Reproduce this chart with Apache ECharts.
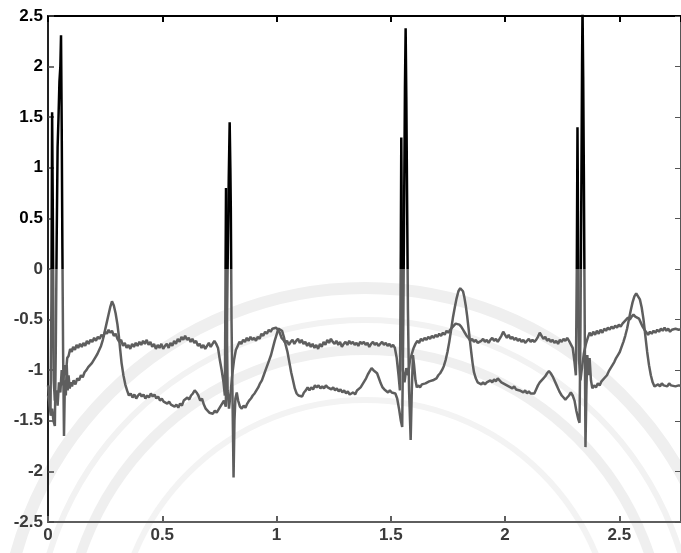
<!DOCTYPE html>
<html lang="en">
<head>
    <meta charset="UTF-8" />
    <title>ECG</title>
    <script src="https://cdn.jsdelivr.net/npm/echarts@6/dist/echarts.min.js"></script>
    <style>
        html, body { margin: 0; padding: 0; background: #fff; }
    </style>
</head>
<body>
    <div id="main" style="width: 681px; height: 553px"></div>
    <script>
        // lead with the tall R waves and T waves, [time s, mV]
        var traceA = [
            [0,-1.25],[0.006,-1.32],[0.012,-1.45],[0.018,-1.38],[0.024,-1.5],[0.03,-1.55],[0.034,-0.8],[0.038,0.3],[0.042,1.2],
            [0.046,1.5],[0.05,1.85],[0.054,2.0],[0.057,2.31],[0.06,1.4],[0.063,0.2],[0.066,-0.8],[0.07,-1.65],[0.074,-1.1],
            [0.078,-1.25],[0.082,-0.95],[0.086,-1.2],[0.09,-1.05],[0.095,-1.18],[0.1,-1.12],
            [0.105,-1.16],[0.112,-1.1],[0.12,-1.14],[0.128,-1.08],[0.136,-1.1],[0.144,-1.05],[0.152,-1.07],[0.16,-1.02],
            [0.168,-1.0],[0.176,-0.97],[0.184,-0.95],[0.192,-0.93],[0.2,-0.9],[0.208,-0.87],[0.216,-0.84],[0.224,-0.8],
            [0.232,-0.76],[0.24,-0.7],[0.248,-0.62],[0.256,-0.54],[0.264,-0.46],[0.272,-0.38],[0.28,-0.32],[0.288,-0.36],
            [0.296,-0.44],[0.304,-0.55],[0.31,-0.66],[0.316,-0.8],[0.322,-0.93],[0.33,-1.05],[0.338,-1.14],[0.346,-1.2],
            [0.354,-1.25],[0.362,-1.23],[0.37,-1.27],[0.378,-1.24],[0.386,-1.28],[0.394,-1.25],[0.402,-1.23],[0.41,-1.26],
            [0.418,-1.24],[0.426,-1.28],[0.434,-1.25],[0.442,-1.27],
            [0.45,-1.23],[0.458,-1.26],[0.466,-1.24],[0.474,-1.28],[0.482,-1.26],[0.49,-1.3],[0.498,-1.28],[0.506,-1.31],
            [0.514,-1.3],[0.522,-1.33],[0.53,-1.31],[0.538,-1.34],[0.546,-1.33],[0.554,-1.36],[0.562,-1.34],[0.57,-1.37],
            [0.578,-1.33],[0.586,-1.35],[0.594,-1.3],[0.602,-1.31],[0.61,-1.27],[0.618,-1.29],[0.626,-1.25],[0.634,-1.23],
            [0.642,-1.2],[0.65,-1.22],[0.658,-1.25],[0.666,-1.3],[0.674,-1.28],[0.682,-1.34],[0.69,-1.38],[0.698,-1.4],
            [0.706,-1.42],[0.714,-1.41],[0.722,-1.43],[0.73,-1.4],[0.738,-1.42],[0.746,-1.39],[0.754,-1.4],[0.762,-1.33],
            [0.77,-1.3],[0.778,-1.36],[0.783,-0.6],[0.787,0.2],[0.791,0.9],[0.795,1.45],[0.798,1.0],[0.8,0.6],[0.803,-0.5],
            [0.807,-1.2],[0.812,-2.06],[0.816,-1.5],
            [0.82,-1.28],[0.826,-1.22],[0.832,-1.3],[0.84,-1.36],[0.848,-1.38],[0.856,-1.35],[0.864,-1.37],[0.872,-1.33],
            [0.88,-1.3],[0.888,-1.28],[0.896,-1.25],[0.904,-1.23],[0.912,-1.2],[0.92,-1.17],[0.928,-1.13],[0.936,-1.1],
            [0.944,-1.05],[0.952,-1.0],[0.96,-0.95],[0.968,-0.9],[0.976,-0.85],[0.984,-0.78],[0.992,-0.71],[1.0,-0.65],
            [1.008,-0.59],[1.016,-0.58],[1.024,-0.61],[1.032,-0.67],[1.04,-0.75],[1.048,-0.82],[1.056,-0.92],[1.064,-1.02],
            [1.072,-1.1],[1.08,-1.18],[1.088,-1.23],[1.096,-1.25],[1.104,-1.24],[1.112,-1.26],[1.12,-1.22],[1.128,-1.2],
            [1.136,-1.17],
            [1.144,-1.2],[1.152,-1.17],[1.16,-1.19],[1.168,-1.15],[1.176,-1.17],[1.184,-1.15],[1.192,-1.18],[1.2,-1.16],
            [1.208,-1.18],[1.216,-1.15],[1.224,-1.17],[1.232,-1.16],[1.24,-1.19],[1.248,-1.17],[1.256,-1.2],[1.264,-1.18],
            [1.272,-1.21],[1.28,-1.19],[1.288,-1.22],[1.296,-1.2],[1.304,-1.23],[1.312,-1.21],[1.32,-1.24],[1.328,-1.25],
            [1.336,-1.22],[1.344,-1.24],[1.352,-1.2],[1.36,-1.21],[1.368,-1.17],[1.376,-1.14],[1.384,-1.11],[1.392,-1.08],
            [1.4,-1.04],[1.408,-1.01],[1.416,-0.98],[1.424,-1.0],[1.432,-0.99],[1.44,-1.03],[1.448,-1.08],[1.456,-1.13],
            [1.464,-1.17],[1.472,-1.19],[1.48,-1.2],[1.488,-1.22],[1.496,-1.2],[1.504,-1.22],[1.512,-1.21],[1.52,-1.23],
            [1.528,-1.28],[1.536,-1.38],[1.544,-1.5],[1.55,-1.56],[1.555,-0.5],[1.559,0.8],[1.562,1.8],[1.565,2.38],
            [1.568,1.7],[1.571,0.8],[1.575,-0.4],[1.58,-1.2],[1.587,-1.69],[1.592,-1.2],[1.597,-0.85],[1.602,-0.95],
            [1.608,-1.1],[1.614,-1.17],[1.62,-1.15],[1.628,-1.17],[1.636,-1.14],[1.644,-1.15],[1.652,-1.13],[1.66,-1.14],
            [1.668,-1.11],[1.676,-1.12],[1.684,-1.1],[1.692,-1.1],
            [1.7,-1.08],[1.708,-1.05],[1.716,-1.03],[1.724,-1.0],[1.732,-0.96],[1.74,-0.9],[1.748,-0.82],[1.756,-0.72],
            [1.764,-0.6],[1.772,-0.48],[1.78,-0.38],[1.788,-0.29],[1.796,-0.22],[1.804,-0.19],[1.81,-0.18],[1.816,-0.22],
            [1.822,-0.28],[1.828,-0.36],[1.834,-0.46],[1.84,-0.58],[1.846,-0.7],[1.852,-0.82],[1.858,-0.93],[1.864,-1.02],
            [1.872,-1.08],[1.88,-1.12],[1.888,-1.13],
            [1.896,-1.14],[1.904,-1.12],[1.912,-1.14],[1.92,-1.12],[1.928,-1.13],[1.936,-1.1],[1.944,-1.12],[1.952,-1.09],
            [1.96,-1.11],[1.968,-1.08],[1.976,-1.1],[1.984,-1.12],[1.992,-1.11],[2.0,-1.14],[2.008,-1.13],[2.016,-1.16],
            [2.024,-1.15],[2.032,-1.18],[2.04,-1.16],[2.048,-1.19],[2.056,-1.18],[2.064,-1.2],[2.072,-1.19],[2.08,-1.22],
            [2.088,-1.2],[2.096,-1.23],[2.104,-1.21],[2.112,-1.23],[2.12,-1.22],[2.128,-1.23],[2.136,-1.19],[2.144,-1.15],
            [2.152,-1.12],[2.16,-1.1],[2.168,-1.08],[2.176,-1.06],[2.184,-1.03],[2.192,-1.01],[2.2,-1.03],[2.208,-1.06],
            [2.216,-1.1],[2.224,-1.14],[2.232,-1.18],[2.24,-1.22],[2.248,-1.25],[2.256,-1.27],[2.264,-1.29],[2.272,-1.27],
            [2.28,-1.25],[2.288,-1.22],[2.296,-1.25],[2.304,-1.3],[2.312,-1.4],[2.32,-1.48],[2.326,-1.52],[2.33,-0.6],
            [2.334,0.8],[2.337,2.0],[2.339,2.6],[2.342,1.9],[2.345,0.9],[2.348,-0.3],[2.352,-1.76],[2.356,-1.2],
            [2.36,-0.85],[2.365,-1.05],[2.37,-0.88],[2.376,-1.1],[2.382,-1.18],[2.39,-1.15],[2.398,-1.17],[2.406,-1.13],
            [2.414,-1.15],[2.422,-1.11],
            [2.43,-1.1],[2.438,-1.07],[2.446,-1.05],[2.454,-1.01],[2.462,-0.98],[2.47,-0.95],[2.478,-0.92],[2.486,-0.88],
            [2.494,-0.85],[2.502,-0.82],[2.51,-0.77],[2.518,-0.72],[2.526,-0.66],[2.534,-0.59],[2.542,-0.5],[2.55,-0.41],
            [2.558,-0.33],[2.566,-0.27],[2.574,-0.24],[2.582,-0.25],[2.59,-0.3],[2.598,-0.38],[2.606,-0.5],[2.614,-0.66],
            [2.622,-0.82],[2.63,-0.95],[2.638,-1.05],[2.646,-1.12],[2.654,-1.16],[2.662,-1.17],[2.67,-1.14],[2.678,-1.16],
            [2.686,-1.13],[2.694,-1.15],[2.702,-1.14],[2.71,-1.16],[2.718,-1.13],[2.726,-1.15],[2.734,-1.14],[2.746,-1.16],
            [2.76,-1.15],[2.78,-1.16]
        ]

        // flatter lead around -0.7
        var traceB = [
            [0,-1.15],[0.006,-1.28],[0.011,-1.4],[0.015,-0.3],[0.018,1.55],[0.021,0.6],[0.025,-1.1],[0.03,-1.3],[0.036,-1.2],
            [0.042,-1.35],[0.048,-1.12],[0.054,-1.22],[0.06,-1.0],[0.066,-1.15],[0.072,-0.95],[0.078,-1.05],[0.084,-0.88],
            [0.09,-0.86],[0.097,-0.79],[0.104,-0.82],[0.11,-0.77],[0.118,-0.8],[0.125,-0.75],[0.132,-0.78],[0.14,-0.74],
            [0.148,-0.77],[0.155,-0.73],[0.163,-0.76],[0.17,-0.71],[0.178,-0.74],[0.186,-0.7],[0.194,-0.72],[0.202,-0.68],
            [0.21,-0.71],[0.218,-0.67],[0.226,-0.69],[0.234,-0.65],[0.242,-0.67],[0.25,-0.62],[0.258,-0.64],[0.265,-0.6],
            [0.272,-0.63],[0.28,-0.61],[0.288,-0.66],[0.296,-0.64],[0.304,-0.69],[0.312,-0.72],[0.32,-0.7],[0.328,-0.76],
            [0.336,-0.73],[0.344,-0.78],[0.352,-0.75],[0.36,-0.79],[0.368,-0.74],[0.376,-0.77],[0.384,-0.73],[0.392,-0.76],
            [0.4,-0.72],[0.408,-0.75],[0.416,-0.71],[0.424,-0.74],[0.432,-0.7],[0.44,-0.75],[0.448,-0.72],[0.456,-0.77],
            [0.464,-0.74],[0.472,-0.79],[0.48,-0.75],[0.488,-0.78],[0.496,-0.74],[0.504,-0.79],[0.512,-0.76],[0.52,-0.74],
            [0.528,-0.78],[0.536,-0.73],[0.544,-0.76],[0.552,-0.71],[0.56,-0.74],[0.568,-0.69],[0.576,-0.72],[0.584,-0.67],
            [0.592,-0.7],[0.6,-0.66],[0.608,-0.7],[0.616,-0.68],[0.624,-0.72],[0.632,-0.69],[0.64,-0.73],[0.648,-0.71],
            [0.656,-0.76],[0.664,-0.74],[0.672,-0.78],[0.68,-0.75],[0.688,-0.79],[0.696,-0.76],[0.704,-0.73],[0.712,-0.77],
            [0.72,-0.74],[0.728,-0.71],[0.736,-0.74],[0.744,-0.78],[0.752,-0.9],[0.76,-1.0],[0.768,-1.12],[0.774,-1.25],
            [0.777,0.0],[0.779,0.8],[0.782,-0.4],[0.786,-1.2],[0.792,-1.38],[0.798,-1.25],[0.806,-1.05],[0.814,-0.9],
            [0.822,-0.8],[0.83,-0.76],[0.838,-0.72],[0.846,-0.74],[0.854,-0.7],[0.862,-0.72],[0.87,-0.68],[0.878,-0.71],
            [0.886,-0.67],[0.894,-0.7],[0.902,-0.68],[0.91,-0.71],[0.918,-0.67],[0.926,-0.69],[0.934,-0.64],[0.942,-0.66],
            [0.95,-0.62],[0.958,-0.64],[0.966,-0.6],[0.974,-0.62],[0.982,-0.59],[0.99,-0.6],[0.998,-0.58],[1.006,-0.6],
            [1.014,-0.63],[1.022,-0.68],[1.03,-0.7],[1.038,-0.73],[1.046,-0.71],[1.054,-0.75],[1.062,-0.72],[1.07,-0.7],
            [1.078,-0.74],[1.086,-0.71],[1.094,-0.69],[1.102,-0.73],[1.11,-0.7],[1.118,-0.74],[1.126,-0.72],[1.134,-0.76],
            [1.142,-0.73],[1.15,-0.77],[1.158,-0.74],[1.166,-0.78],[1.174,-0.75],[1.182,-0.79],[1.19,-0.74],[1.198,-0.77],
            [1.206,-0.72],[1.214,-0.75],[1.222,-0.7],[1.23,-0.73],[1.238,-0.69],[1.246,-0.72],[1.254,-0.74],[1.262,-0.71],
            [1.27,-0.75],[1.278,-0.72],[1.286,-0.77],[1.294,-0.74],[1.302,-0.72],[1.31,-0.75],[1.318,-0.71],[1.326,-0.74],
            [1.334,-0.72],[1.342,-0.75],[1.35,-0.73],[1.358,-0.76],[1.366,-0.72],[1.374,-0.74],[1.382,-0.72],[1.39,-0.75],
            [1.398,-0.73],[1.406,-0.77],[1.414,-0.74],[1.422,-0.72],[1.43,-0.75],[1.438,-0.73],[1.446,-0.76],[1.454,-0.74],
            [1.462,-0.72],[1.47,-0.75],[1.478,-0.73],[1.486,-0.76],[1.494,-0.74],[1.502,-0.77],[1.51,-0.75],[1.518,-0.78],
            [1.526,-0.88],[1.534,-1.05],[1.54,-1.2],[1.544,0.2],[1.546,1.3],[1.549,0.0],[1.553,-1.0],[1.56,-1.12],
            [1.568,-0.98],[1.576,-1.05],[1.584,-0.9],[1.592,-0.84],
            [1.6,-0.78],[1.608,-0.74],[1.616,-0.71],[1.624,-0.73],[1.632,-0.69],[1.64,-0.71],[1.648,-0.68],[1.656,-0.7],
            [1.664,-0.67],[1.672,-0.69],[1.68,-0.66],[1.688,-0.68],[1.696,-0.65],[1.704,-0.67],[1.712,-0.64],[1.72,-0.66],
            [1.728,-0.63],[1.736,-0.65],[1.744,-0.61],[1.752,-0.63],[1.76,-0.6],[1.768,-0.58],[1.776,-0.56],[1.784,-0.54],
            [1.792,-0.53],[1.8,-0.55],[1.808,-0.57],[1.816,-0.6],[1.824,-0.63],[1.832,-0.66],[1.84,-0.68],[1.848,-0.71],
            [1.856,-0.69],[1.864,-0.72],[1.872,-0.7],[1.88,-0.73],
            [1.888,-0.74],[1.896,-0.71],[1.904,-0.69],[1.912,-0.72],[1.92,-0.7],[1.928,-0.73],[1.936,-0.7],[1.944,-0.68],
            [1.952,-0.71],[1.96,-0.69],[1.968,-0.72],[1.976,-0.69],[1.984,-0.66],[1.992,-0.62],[2.0,-0.65],[2.008,-0.68],
            [2.016,-0.65],[2.024,-0.69],[2.032,-0.67],[2.04,-0.7],[2.048,-0.68],[2.056,-0.71],[2.064,-0.69],[2.072,-0.72],
            [2.08,-0.7],[2.088,-0.73],[2.096,-0.71],[2.104,-0.69],[2.112,-0.72],[2.12,-0.7],[2.128,-0.72],[2.136,-0.7],
            [2.144,-0.67],[2.152,-0.63],[2.16,-0.66],[2.168,-0.69],[2.176,-0.67],[2.184,-0.71],[2.192,-0.69],[2.2,-0.72],
            [2.208,-0.7],[2.216,-0.73],[2.224,-0.71],[2.232,-0.74],[2.24,-0.7],[2.248,-0.72],[2.256,-0.69],[2.264,-0.71],
            [2.272,-0.68],[2.28,-0.71],[2.288,-0.7],[2.296,-0.78],[2.304,-0.92],[2.31,-1.05],[2.314,0.0],[2.317,1.4],
            [2.32,0.2],[2.324,-0.9],[2.33,-1.1],[2.338,-0.95],[2.346,-0.82],[2.354,-0.74],[2.362,-0.68],[2.37,-0.63],
            [2.378,-0.66],[2.386,-0.62],[2.394,-0.65],[2.402,-0.61],[2.41,-0.64],[2.418,-0.6],[2.426,-0.63],[2.434,-0.59],
            [2.442,-0.61],[2.45,-0.58],[2.458,-0.6],[2.466,-0.57],[2.474,-0.59],[2.482,-0.56],[2.49,-0.58],[2.498,-0.55],
            [2.506,-0.57],[2.514,-0.54],[2.522,-0.52],[2.53,-0.5],[2.538,-0.48],[2.546,-0.5],[2.554,-0.47],[2.562,-0.45],
            [2.57,-0.47],[2.578,-0.46],[2.586,-0.49],[2.594,-0.53],[2.602,-0.57],[2.61,-0.6],[2.618,-0.61],[2.626,-0.65],
            [2.634,-0.62],[2.642,-0.64],[2.65,-0.61],[2.658,-0.63],[2.666,-0.6],[2.674,-0.62],[2.682,-0.59],[2.69,-0.61],
            [2.698,-0.58],[2.706,-0.61],[2.714,-0.59],[2.722,-0.62],[2.73,-0.6],[2.738,-0.61],[2.746,-0.59],[2.76,-0.6],
            [2.78,-0.59]
        ]

        var mCharts = echarts.init(document.getElementById('main'))

        var labelFont = 'Liberation Sans'
        var option = {
            animation: false,
            backgroundColor: '#fff',
            grid: { left: 48, right: -4, top: 16, bottom: 31 },
            // faint seal watermark of the scanned page
            graphic: [
                { type: 'circle', z: -10, shape: { cx: 365, cy: 650, r: 362 }, style: { fill: 'none', stroke: '#efefef', lineWidth: 12 } },
                { type: 'circle', z: -10, shape: { cx: 365, cy: 650, r: 330 }, style: { fill: 'none', stroke: '#f2f2f2', lineWidth: 6 } },
                { type: 'circle', z: -10, shape: { cx: 365, cy: 650, r: 300 }, style: { fill: 'none', stroke: '#efefef', lineWidth: 10 } },
                { type: 'circle', z: -10, shape: { cx: 365, cy: 650, r: 250 }, style: { fill: 'none', stroke: '#f3f3f3', lineWidth: 6 } }
            ],
            visualMap: {
                show: false,
                type: 'piecewise',
                dimension: 1,
                seriesIndex: [0, 1],
                pieces: [
                    { gt: 0, lte: 5, color: '#000' },
                    { gt: -5, lte: 0, color: '#5e5e5e' }
                ]
            },
            xAxis: [
                {
                    type: 'value', min: 0, max: 2.77, interval: 0.5,
                    position: 'bottom',
                    axisLine: { onZero: false, lineStyle: { color: '#5e5e5e', width: 2 } },
                    axisTick: { inside: true, length: 6, lineStyle: { color: '#5e5e5e', width: 2 } },
                    axisLabel: { showMaxLabel: false, color: '#3a3a3a', fontFamily: labelFont, fontSize: 17, fontWeight: 'bold', margin: 5 },
                    splitLine: { show: false }
                },
                {
                    type: 'value', min: 0, max: 2.77, interval: 0.5,
                    position: 'top',
                    axisLine: { onZero: false, lineStyle: { color: '#000', width: 2 } },
                    axisTick: { inside: true, length: 6, lineStyle: { color: '#000', width: 2 } },
                    axisLabel: { show: false },
                    splitLine: { show: false }
                }
            ],
            yAxis: [
                {
                    type: 'value', min: -2.5, max: 2.5, interval: 0.5,
                    axisLine: { show: true, onZero: false, lineStyle: { color: '#222', width: 2 } },
                    axisTick: { show: true, inside: true, length: 6, lineStyle: { color: '#444', width: 1.5 } },
                    axisLabel: {
                        color: function (v) { return Number(v) > 0 ? '#000' : '#3a3a3a' },
                        fontFamily: labelFont, fontSize: 17, fontWeight: 'bold', margin: 5
                    },
                    splitLine: { show: false }
                },
                {
                    type: 'value', min: -2.5, max: 2.5, interval: 0.5,
                    position: 'right',
                    axisLine: { show: true, onZero: false, lineStyle: { color: '#555', width: 2 } },
                    axisTick: { show: true, inside: true, length: 6, lineStyle: { color: '#555' } },
                    axisLabel: { show: false },
                    splitLine: { show: false }
                }
            ],
            series: [
                {
                    type: 'line', data: traceA, showSymbol: false,
                    lineStyle: { width: 2.5 }
                },
                {
                    type: 'line', data: traceB, showSymbol: false,
                    lineStyle: { width: 2.5 }
                }
            ]
        }
        mCharts.setOption(option)
    </script>
</body>
</html>
